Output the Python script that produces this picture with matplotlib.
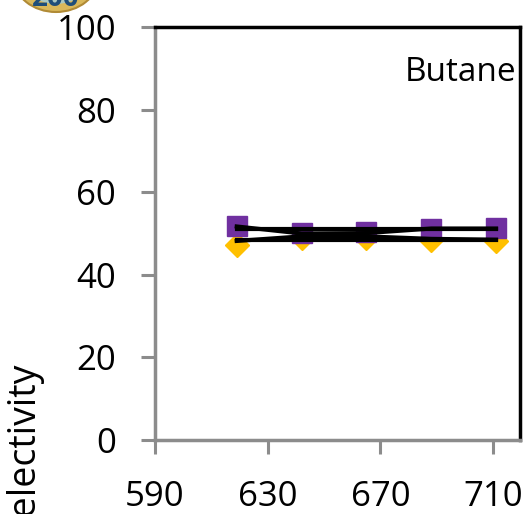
import matplotlib
matplotlib.use('agg')
import matplotlib.pyplot as plt
from matplotlib.patches import Ellipse

# data
temps = [619, 642, 665, 688, 711]
sel_purple = [51.7, 50.2, 50.3, 51.0, 51.3]
sel_yellow = [47.3, 48.9, 49.0, 48.4, 48.3]
line_upper = [51.7, 50.0, 50.1, 51.2, 51.2]
line_lower = [48.2, 49.3, 49.3, 48.7, 48.5]
avg_upper = 51.0
avg_lower = 48.4

xticks = [590, 630, 670, 710]
yticks = [0, 20, 40, 60, 80, 100]

W, H = 531, 514
fig = plt.figure(figsize=(W / 100, H / 100), dpi=100)
ax = fig.add_axes([155 / W, 1 - 440 / H, 365 / W, 413 / H])

font = 'Open Sans'
gray = '#8c8c8c'

ax.plot(temps, sel_yellow, linestyle='none', marker='D', markersize=12,
        color='#FFC000', zorder=2)
ax.plot(temps, sel_purple, linestyle='none', marker='s', markersize=14,
        color='#7030A0', zorder=3)
ax.plot(temps, line_upper, color='black', lw=3, zorder=4)
ax.plot(temps, line_lower, color='black', lw=3, zorder=4)
ax.plot([temps[0], temps[-1]], [avg_upper, avg_upper], color='black', lw=3, zorder=4)
ax.plot([temps[0], temps[-1]], [avg_lower, avg_lower], color='black', lw=3, zorder=4)

ax.set_xlim(590, 719.5)
ax.set_ylim(0, 100)
ax.set_xticks(xticks)
ax.set_yticks(yticks)
ax.set_xticklabels([str(t) for t in xticks], fontsize=25, family=font)
ax.set_yticklabels([str(t) for t in yticks], fontsize=25, family=font)
ax.tick_params(axis='both', direction='out', length=10, width=2.2, color=gray)
ax.tick_params(axis='y', pad=18)
ax.tick_params(axis='x', pad=19)

for s in ['left', 'bottom']:
    ax.spines[s].set_color(gray)
    ax.spines[s].set_linewidth(2.5)
for s in ['top', 'right']:
    ax.spines[s].set_color('black')
    ax.spines[s].set_linewidth(2.5)

ax.text(0.99, 0.93, 'Butane', transform=ax.transAxes, ha='right', va='top',
        fontsize=24, family=font)

fig.text(24 / W, 1 - 536 / H, 'Selectivity', rotation=90, ha='center', va='bottom',
         fontsize=27, family=font)

# logo peeking in at the top left
ov = fig.add_axes([0, 0, 1, 1], zorder=10)
ov.set_xlim(0, W)
ov.set_ylim(H, 0)
ov.axis('off')
ov.add_patch(Ellipse((56, -22), 84, 68, facecolor='#d9b85a', edgecolor='#b08a35', lw=1.5))
ov.add_patch(Ellipse((56, -24), 68, 56, facecolor='#a9c7c0', edgecolor='none'))
ov.text(56, -1, '200', ha='center', va='center', fontsize=20, weight='bold',
        color='#1f4e79', family=font)

fig.savefig('out.png', dpi=100)
